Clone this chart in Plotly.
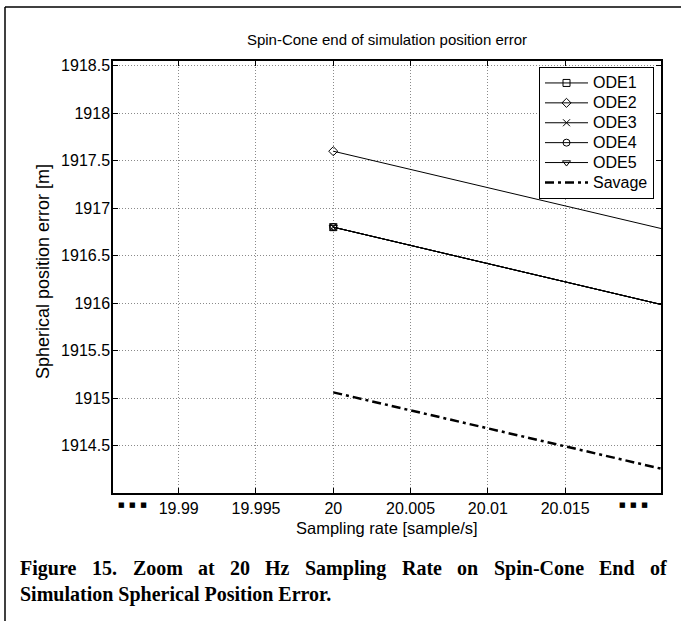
import plotly.graph_objects as go

# ---------------- data ----------------
rates = [20.0, 20.022]
ode1 = [1916.80, 1915.955]
ode2 = [1917.60, 1916.755]
ode3 = [1916.80, 1915.955]
ode4 = [1916.80, 1915.955]
ode5 = [1916.80, 1915.955]
savage = [1915.06, 1914.226]

series_names = ["ODE1", "ODE2", "ODE3", "ODE4", "ODE5"]
savage_name = "Savage"
x_tickvals = [19.99, 19.995, 20.0, 20.005, 20.01, 20.015]
x_ticktext = ["19.99", "19.995", "20", "20.005", "20.01", "20.015"]
y_tickvals = [1914.5, 1915.0, 1915.5, 1916.0, 1916.5, 1917.0, 1917.5, 1918.0, 1918.5]
y_ticktext = ["1914.5", "1915", "1915.5", "1916", "1916.5", "1917", "1917.5", "1918", "1918.5"]
x_range = [19.98575, 20.0212]
y_range = [1914.0, 1918.55]
break_marks = [19.98704, 20.0194]

title_text = "Spin-Cone end of simulation position error"
xlabel = "Sampling rate [sample/s]"
ylabel = "Spherical position error [m]"
caption1 = "Figure 15. Zoom at 20 Hz Sampling Rate on Spin-Cone End of"
caption2 = "Simulation Spherical Position Error."

# ---------------- layout geometry ----------------
W, H = 681, 621
L, R, T, B = 113, 661, 61, 493
pw, ph = R - L, B - T


def px(xp):
    return (xp - L) / pw


def py(yp):
    return (B - yp) / ph


SANS = "Liberation Sans, Arial, Helvetica, sans-serif"
SERIF = "Liberation Serif, Times New Roman, serif"
LEG_TXT = 16


def leg(name):
    return '<span style="font-size:%dpx">%s</span>' % (LEG_TXT, name)


fig = go.Figure()
symbols = ["square-open", "diamond-open", "x-thin-open", "circle-open", "triangle-down-open"]
for name, ys, sym in zip(series_names, [ode1, ode2, ode3, ode4, ode5], symbols):
    fig.add_trace(go.Scatter(
        x=rates, y=ys, name=leg(name), mode="lines+markers",
        line=dict(color="black", width=1),
        marker=dict(symbol=sym, size=7, color="black", line=dict(color="black", width=1)),
    ))
fig.add_trace(go.Scatter(
    x=rates, y=savage, name=leg(savage_name), mode="lines",
    line=dict(color="black", width=2.5, dash="9px,4px,3px,4px"),
))

axis_common = dict(
    showline=True, linecolor="black", linewidth=1.5, mirror="ticks",
    ticks="inside", ticklen=5, tickcolor="black", tickwidth=1,
    showgrid=True, gridcolor="#8a8a8a", griddash="1px,2px", gridwidth=1,
    zeroline=False, tickfont=dict(family=SANS, size=16, color="black"),
)
fig.update_xaxes(range=x_range, tickmode="array", tickvals=x_tickvals, ticktext=x_ticktext,
                 ticklabelstandoff=0, **axis_common)
fig.update_yaxes(range=y_range, tickmode="array", tickvals=y_tickvals, ticktext=y_ticktext,
                 ticklabelstandoff=-2, **axis_common)

annotations = []
# axis titles
annotations.append(dict(text=xlabel, xref="paper", yref="paper", x=0.5, y=py(528),
                        xanchor="center", yanchor="middle", showarrow=False,
                        font=dict(family=SANS, size=16.5, color="black")))
annotations.append(dict(text=ylabel, xref="paper", yref="paper", x=px(43), y=py(272),
                        xanchor="center", yanchor="middle", showarrow=False, textangle=-90,
                        font=dict(family=SANS, size=18, color="black")))
# axis-break marks
for bm in break_marks:
    annotations.append(dict(text="■\u00a0\u00a0■\u00a0\u00a0■", xref="x", yref="paper", x=bm, y=py(505),
                            xanchor="center", yanchor="middle", showarrow=False,
                            font=dict(family="DejaVu Sans", size=7, color="black")))

# caption line 1, justified
tb = {"F": 611, "i": 278, "g": 500, "u": 556, "r": 444, "e": 444, "1": 500, "5": 500, ".": 250,
      "Z": 667, "o": 500, "m": 833, "a": 500, "t": 333, "2": 500, "0": 500, "H": 778, "z": 444,
      "S": 556, "p": 556, "l": 278, "n": 556, "R": 722, "-": 333, "C": 722, "E": 667, "d": 556,
      "f": 333, "h": 556, "c": 444, "s": 389, "P": 611}
cap_size = 20
words = caption1.split(" ")
widths = [sum(tb.get(ch, 500) for ch in w) / 1000 * cap_size for w in words]
x_left, x_right = 18, 665
gap = (x_right - x_left - sum(widths)) / (len(words) - 1)
xc = x_left
for w, wd in zip(words, widths):
    annotations.append(dict(text="<b>" + w + "</b>", xref="paper", yref="paper", x=px(xc), y=py(568),
                            xanchor="left", yanchor="middle", showarrow=False,
                            font=dict(family=SERIF, size=cap_size, color="black")))
    xc += wd + gap
annotations.append(dict(text="<b>" + caption2 + "</b>", xref="paper", yref="paper", x=px(18), y=py(594),
                        xanchor="left", yanchor="middle", showarrow=False,
                        font=dict(family=SERIF, size=cap_size, color="black")))

shapes = [
    dict(type="line", xref="paper", yref="paper", x0=px(5), x1=px(5), y0=py(7), y1=py(H + 5),
         line=dict(color="black", width=1.5)),
    dict(type="line", xref="paper", yref="paper", x0=px(5), x1=px(W + 5), y0=py(7), y1=py(7),
         line=dict(color="black", width=1.5)),
]

fig.update_layout(
    width=W, height=H,
    margin=dict(l=L, r=W - R, t=T, b=H - B, autoexpand=False),
    paper_bgcolor="white", plot_bgcolor="white",
    font=dict(family=SANS, size=16, color="black"),
    title=dict(text=title_text, x=0.5, xref="paper", xanchor="center",
               y=1 - 40 / H, yref="container", yanchor="middle",
               font=dict(family=SANS, size=15, color="black")),
    legend=dict(x=px(654), xanchor="right", y=py(67), yanchor="top",
                bgcolor="white", bordercolor="black", borderwidth=1,
                font=dict(family=SANS, size=13, color="black"),
                itemwidth=43, tracegroupgap=0),
    showlegend=True,
    annotations=annotations,
    shapes=shapes,
)

fig.write_html("out.html", config={"displayModeBar": False},
               post_script="document.body.style.margin='0';document.body.style.overflow='hidden';")
